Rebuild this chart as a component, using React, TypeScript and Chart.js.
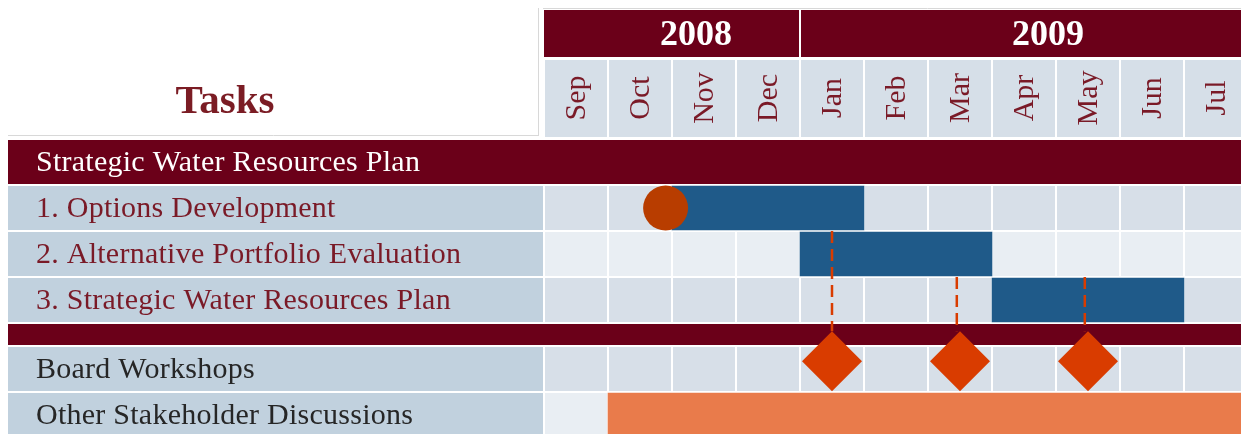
import React, { useEffect, useRef } from 'react';
import { Chart, registerables } from 'chart.js';

Chart.register(...registerables);

// ---------- data ----------
const months = ['Sep', 'Oct', 'Nov', 'Dec', 'Jan', 'Feb', 'Mar', 'Apr', 'May', 'Jun', 'Jul', 'Aug'];
const years = ['2008', '2009'];
const yearMonthCounts = [4, 8];
const yearLabelAt = [2.375, 7.875]; // month offset of each year's caption
const rowLabels = [
  'Strategic Water Resources Plan',
  '1. Options Development',
  '2. Alternative Portfolio Evaluation',
  '3. Strategic Water Resources Plan',
  '',
  'Board Workshops',
  'Other Stakeholder Discussions',
];
const rowKinds = ['section', 'task', 'task', 'task', 'sep', 'item', 'item'];
const rowShade = [0, 1, 0, 1, 0, 1, 0]; // 1 = darker cells
const taskRows = [1, 2, 3];
const taskStarts = [2, 4, 7]; // months from Sep 2008
const taskEnds = [5, 7, 10];
const kickoffMonths = [1.9];
const kickoffRows = [1];
const workshopMonths = [4.5, 6.5, 8.5];
const workshopRow = 5;
const stakeholderRow = 6;
const stakeholderSpan = [1, 12];
const linkMonths = [4.5, 6.45, 8.45];
const linkFromRows = [1, 2, 2];

// ---------- style ----------
const MAROON = '#6b0019';
const TEXT_MAROON = '#7a1a27';
const TEXT_DARK = '#262626';
const LABEL_BG = '#c1d1de';
const CELL_DARK = '#d7dfe8';
const CELL_LIGHT = '#e9eef3';
const MONTH_BG = '#d6dfe8';
const BAR_BLUE = '#1f5a89';
const ORANGE = '#e97b4b';
const DIAMOND = '#d93c00';
const CIRCLE = '#b83d00';
const SERIF = '"Liberation Serif", "DejaVu Serif", serif';
const ROW_PX = 46;
const LEFT = 536;
const TOP = 131;
const DIAMOND_R = 30;
const DIAMOND_SHIFT = 0.17;

const kindHeight: Record<string, number> = { section: 1, task: 1, sep: 0.5, item: 1 };
const rowTops: number[] = [];
{
  let acc = 0;
  rowKinds.forEach((k) => {
    rowTops.push(acc);
    acc += kindHeight[k];
  });
}
const rowBottom = (i: number) => rowTops[i] + kindHeight[rowKinds[i]];
const rowCenter = (i: number) => (rowTops[i] + rowBottom(i)) / 2;
const TOTAL_ROWS = rowBottom(rowKinds.length - 1);
const diamondY = rowCenter(workshopRow) - DIAMOND_SHIFT;
const diamondTop = diamondY - DIAMOND_R / ROW_PX;

const ganttPlugin = {
  id: 'ganttBackground',
  beforeDatasetsDraw(chart: any) {
    const { ctx, chartArea } = chart;
    const xs = chart.scales.x;
    const ys = chart.scales.y;
    const px = (v: number) => xs.getPixelForValue(v);
    const py = (v: number) => ys.getPixelForValue(v);
    const right = chartArea.right;
    ctx.save();

    // thin table borders
    ctx.strokeStyle = '#d8d8d8';
    ctx.lineWidth = 1;
    ctx.beginPath();
    ctx.moveTo(LEFT - 1, 0.5);
    ctx.lineTo(right, 0.5);
    ctx.moveTo(530.5, 0);
    ctx.lineTo(530.5, 128);
    ctx.moveTo(0, 127.5);
    ctx.lineTo(531, 127.5);
    ctx.stroke();

    // year bands
    let m = 0;
    years.forEach((yr, i) => {
      const x0 = px(m) + (i === 0 ? 0 : 1);
      const x1 = px(m + yearMonthCounts[i]) - 1;
      ctx.fillStyle = MAROON;
      ctx.fillRect(x0, 2, x1 - x0, 47);
      m += yearMonthCounts[i];
    });
    ctx.fillStyle = '#ffffff';
    ctx.font = `bold 36px ${SERIF}`;
    ctx.textAlign = 'center';
    ctx.textBaseline = 'middle';
    years.forEach((yr, i) => {
      ctx.fillText(yr, px(yearLabelAt[i]), 28);
    });

    // month cells
    months.forEach((mo, i) => {
      const x0 = px(i) + 1;
      const x1 = px(i + 1) - 1;
      ctx.fillStyle = MONTH_BG;
      ctx.fillRect(x0, 52, x1 - x0, 77);
      ctx.save();
      ctx.translate((x0 + x1) / 2, 90);
      ctx.rotate(-Math.PI / 2);
      ctx.fillStyle = TEXT_MAROON;
      ctx.font = `30px ${SERIF}`;
      ctx.textAlign = 'center';
      ctx.textBaseline = 'middle';
      ctx.fillText(mo, 0, 1);
      ctx.restore();
    });

    // Tasks title
    ctx.fillStyle = '#7b1c24';
    ctx.font = `bold 41px ${SERIF}`;
    ctx.textAlign = 'center';
    ctx.textBaseline = 'middle';
    ctx.fillText('Tasks', 217, 94);

    // rows
    rowKinds.forEach((kind, r) => {
      const y0 = py(rowTops[r]) + 1;
      const y1 = py(rowBottom(r)) - 1;
      if (kind === 'section' || kind === 'sep') {
        ctx.fillStyle = MAROON;
        ctx.fillRect(0, y0, right, y1 - y0);
      } else {
        ctx.fillStyle = LABEL_BG;
        ctx.fillRect(0, y0, LEFT - 1, y1 - y0);
        months.forEach((_, i) => {
          const x0 = px(i) + 1;
          const x1 = px(i + 1) - 1;
          ctx.fillStyle = rowShade[r] ? CELL_DARK : CELL_LIGHT;
          ctx.fillRect(x0, y0, x1 - x0, y1 - y0);
        });
      }
      const label = rowLabels[r];
      if (label) {
        ctx.font = `30px ${SERIF}`;
        (ctx as any).letterSpacing = '0.25px';
        ctx.textAlign = 'left';
        ctx.textBaseline = 'middle';
        ctx.fillStyle = kind === 'section' ? '#ffffff' : kind === 'task' ? TEXT_MAROON : TEXT_DARK;
        ctx.fillText(label, 28, (y0 + y1) / 2 + 1);
        (ctx as any).letterSpacing = '0px';
      }
    });
    ctx.restore();
  },
};

export default function App() {
  const ref = useRef<HTMLCanvasElement>(null);

  useEffect(() => {
    const canvas = ref.current;
    if (!canvas) return;

    const linkSets = linkMonths.map((mx, i) => ({
      type: 'line' as const,
      data: [
        { x: mx, y: rowBottom(linkFromRows[i]) },
        { x: mx, y: diamondTop },
      ],
      borderColor: DIAMOND,
      borderWidth: 2.5,
      borderDash: [12, 6],
      pointRadius: 0,
      fill: false,
      order: 1,
    }));

    const chart = new Chart(canvas, {
      type: 'bar',
      data: {
        datasets: [
          {
            type: 'bar',
            data: taskRows.map((r, i) => ({ x: [taskStarts[i], taskEnds[i]], y: rowCenter(r) })),
            backgroundColor: BAR_BLUE,
            borderWidth: 0,
            barThickness: 44,
            grouped: false,
            indexAxis: 'y',
            order: 3,
          } as any,
          {
            type: 'bar',
            data: [{ x: stakeholderSpan, y: rowCenter(stakeholderRow) }],
            backgroundColor: ORANGE,
            borderWidth: 0,
            barThickness: 44,
            grouped: false,
            indexAxis: 'y',
            order: 3,
          } as any,
          ...linkSets,
          {
            type: 'line',
            data: kickoffMonths.map((mx, i) => ({ x: mx, y: rowCenter(kickoffRows[i]) })),
            showLine: false,
            pointStyle: 'circle',
            pointRadius: 22.5,
            pointBackgroundColor: CIRCLE,
            pointBorderWidth: 0,
            order: 0,
          } as any,
          {
            type: 'line',
            data: workshopMonths.map((mx) => ({ x: mx, y: diamondY })),
            showLine: false,
            pointStyle: 'rectRot',
            pointRadius: DIAMOND_R,
            pointBackgroundColor: DIAMOND,
            pointBorderWidth: 0,
            order: 0,
          } as any,
        ],
      },
      options: {
        animation: false,
        responsive: false,
        devicePixelRatio: 1,
        indexAxis: 'y',
        layout: {
          autoPadding: false,
          padding: { left: LEFT, top: TOP, right: 0, bottom: 440 - TOP - TOTAL_ROWS * ROW_PX },
        },
        scales: {
          x: { type: 'linear', min: 0, max: months.length, offset: false, display: false },
          y: { type: 'linear', min: 0, max: TOTAL_ROWS, reverse: true, offset: false, display: false },
        },
        plugins: {
          legend: { display: false },
          tooltip: { enabled: false },
        },
        events: [],
      } as any,
      plugins: [ganttPlugin],
    });

    return () => chart.destroy();
  }, []);

  return (
    <div
      style={{
        position: 'fixed',
        left: 8,
        top: 8,
        width: 1233,
        height: 426,
        overflow: 'hidden',
        background: '#ffffff',
      }}
    >
      <canvas ref={ref} width={1304} height={440} style={{ display: 'block' }} />
    </div>
  );
}
